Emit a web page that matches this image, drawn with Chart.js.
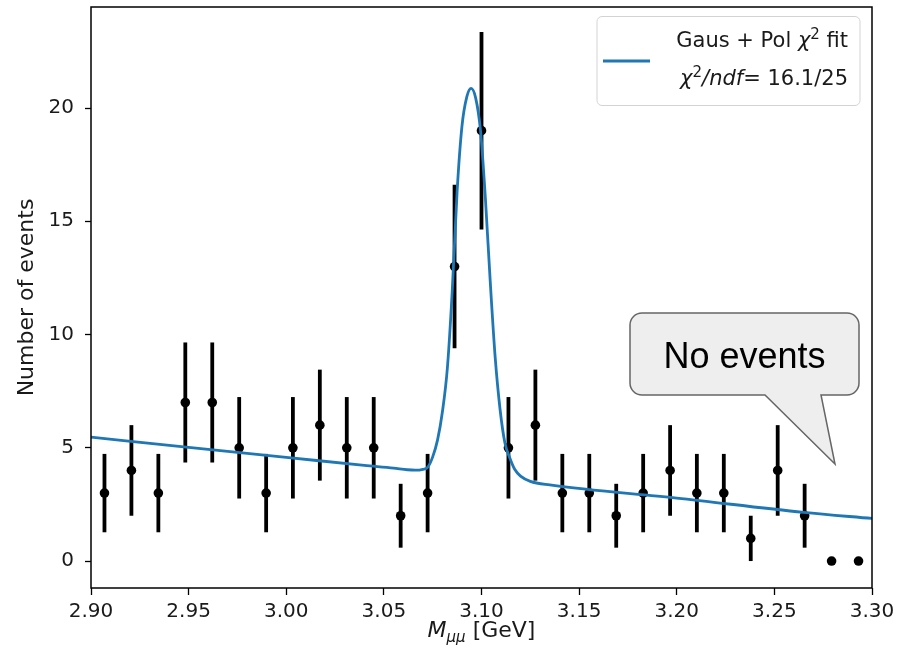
<!DOCTYPE html>
<html>
<head>
<meta charset="utf-8">
<script src="https://cdn.jsdelivr.net/npm/chart.js@4.4.1/dist/chart.umd.min.js"></script>
<style>
  html, body { margin: 0; padding: 0; background: #fff; }
  #wrap { width: 898px; height: 658px; position: relative; }
</style>
</head>
<body>
<div id="wrap"><canvas id="fitChart"></canvas></div>
<script>
// Histogram bin centres (GeV), counts and Poisson errors
const binCenters = [2.9069, 2.9207, 2.9345, 2.9483, 2.9621, 2.9759, 2.9897, 3.0034, 3.0172, 3.0310,
                    3.0448, 3.0586, 3.0724, 3.0862, 3.1000, 3.1138, 3.1276, 3.1414, 3.1552, 3.1690,
                    3.1828, 3.1966, 3.2103, 3.2241, 3.2379, 3.2517, 3.2655, 3.2793, 3.2931];
const counts = [3, 4, 3, 7, 7, 5, 3, 5, 6, 5,
                5, 2, 3, 13, 19, 5, 6, 3, 3, 2,
                3, 4, 3, 3, 1, 4, 2, 0, 0];
const errors = [1.73, 2, 1.73, 2.65, 2.65, 2.24, 1.73, 2.24, 2.45, 2.24,
                2.24, 1.41, 1.73, 3.61, 4.36, 2.24, 2.45, 1.73, 1.73, 1.41,
                1.73, 2, 1.73, 1.73, 1, 2, 1.41, 0, 0];

// Fit curve (Gaus + Pol)
const fitX = [2.900, 2.950, 3.000, 3.040, 3.055, 3.062, 3.066, 3.070, 3.0725, 3.0750,
              3.0775, 3.0800, 3.0825, 3.0850, 3.0875, 3.0900, 3.0925, 3.0947, 3.0970, 3.0995,
              3.1020, 3.1045, 3.1070, 3.1095, 3.1120, 3.1145, 3.1170, 3.1200, 3.1250, 3.1350,
              3.2000, 3.2650, 3.3000];
const fitY = [5.47, 5.02, 4.58, 4.22, 4.10, 4.03, 4.01, 4.05, 4.15, 4.60,
              5.35, 6.60, 8.50, 11.9, 16.3, 19.2, 20.5, 20.87, 20.45, 19.0,
              16.0, 12.3, 9.0, 6.7, 5.21, 4.55, 4.05, 3.75, 3.52, 3.36,
              2.78, 2.15, 1.88];

const xTicks = [2.90, 2.95, 3.00, 3.05, 3.10, 3.15, 3.20, 3.25, 3.30];
const yTicks = [0, 5, 10, 15, 20];

const fitColor = '#1f77b4';
const textColor = '#1a1a1a';
const FONT = "'DejaVu Sans'";

// draws a list of text runs, right aligned at xr
function drawRuns(ctx, runs, xr, baseline) {
    let total = 0;
    runs.forEach(r => { ctx.font = r.font; total += ctx.measureText(r.t).width; });
    let x = xr - total;
    ctx.textAlign = 'left';
    ctx.textBaseline = 'alphabetic';
    runs.forEach(r => {
        ctx.font = r.font;
        ctx.fillText(r.t, x, baseline + (r.dy || 0));
        x += ctx.measureText(r.t).width;
    });
}

const errorBars = {
    id: 'errorBars',
    beforeDatasetsDraw(chart) {
        const { ctx, scales: { x, y } } = chart;
        ctx.save();
        ctx.strokeStyle = '#000';
        ctx.lineWidth = 3.8;
        binCenters.forEach((c, i) => {
            if (!errors[i]) return;
            const px = x.getPixelForValue(c);
            ctx.beginPath();
            ctx.moveTo(px, y.getPixelForValue(counts[i] - errors[i]));
            ctx.lineTo(px, y.getPixelForValue(counts[i] + errors[i]));
            ctx.stroke();
        });
        ctx.restore();
    }
};

const decorations = {
    id: 'decorations',
    afterDraw(chart) {
        const { ctx, chartArea: a } = chart;
        ctx.save();
        // frame
        ctx.strokeStyle = '#000';
        ctx.lineWidth = 1.5;
        ctx.strokeRect(a.left, a.top, a.right - a.left, a.bottom - a.top);

        ctx.fillStyle = textColor;
        // y title
        ctx.save();
        ctx.translate(33, 297.5);
        ctx.rotate(-Math.PI / 2);
        ctx.font = `22px ${FONT}`;
        ctx.textAlign = 'center';
        ctx.textBaseline = 'alphabetic';
        ctx.fillText('Number of events', 0, 0);
        ctx.restore();

        // x title  M_{μμ} [GeV]
        const xt = [
            { t: 'M', font: `italic 22px ${FONT}` },
            { t: 'μμ', font: `italic 15px ${FONT}`, dy: 5 },
            { t: ' [GeV]', font: `22px ${FONT}` }
        ];
        let w = 0;
        xt.forEach(r => { ctx.font = r.font; w += ctx.measureText(r.t).width; });
        drawRuns(ctx, xt, (a.left + a.right) / 2 + w / 2, 637);

        // legend
        ctx.beginPath();
        ctx.roundRect(597, 16.5, 263, 89, 5);
        ctx.fillStyle = 'rgba(255,255,255,0.85)';
        ctx.fill();
        ctx.strokeStyle = '#d3d3d3';
        ctx.lineWidth = 1;
        ctx.stroke();
        ctx.strokeStyle = fitColor;
        ctx.lineWidth = 3;
        ctx.beginPath();
        ctx.moveTo(603, 61);
        ctx.lineTo(650, 61);
        ctx.stroke();
        ctx.fillStyle = textColor;
        drawRuns(ctx, [
            { t: 'Gaus + Pol ', font: `21px ${FONT}` },
            { t: 'χ', font: `italic 21px ${FONT}` },
            { t: '2', font: `15px ${FONT}`, dy: -8 },
            { t: ' fit', font: `21px ${FONT}` }
        ], 848, 47);
        drawRuns(ctx, [
            { t: 'χ', font: `italic 21px ${FONT}` },
            { t: '2', font: `15px ${FONT}`, dy: -8 },
            { t: '/ndf', font: `italic 21px ${FONT}` },
            { t: '= 16.1/25', font: `21px ${FONT}` }
        ], 848, 85);

        // callout
        const L = 630, R = 859, T = 313, B = 395, r = 12;
        ctx.beginPath();
        ctx.moveTo(L + r, T);
        ctx.lineTo(R - r, T);
        ctx.arcTo(R, T, R, T + r, r);
        ctx.lineTo(R, B - r);
        ctx.arcTo(R, B, R - r, B, r);
        ctx.lineTo(821, B);
        ctx.lineTo(835, 464);
        ctx.lineTo(765, B);
        ctx.lineTo(L + r, B);
        ctx.arcTo(L, B, L, B - r, r);
        ctx.lineTo(L, T + r);
        ctx.arcTo(L, T, L + r, T, r);
        ctx.closePath();
        ctx.fillStyle = '#eeeeee';
        ctx.fill();
        ctx.strokeStyle = '#666';
        ctx.lineWidth = 1.5;
        ctx.stroke();
        ctx.fillStyle = '#000';
        ctx.font = "36px 'Liberation Sans'";
        ctx.textAlign = 'center';
        ctx.textBaseline = 'alphabetic';
        ctx.fillText('No events', 744.5, 368);
        ctx.restore();
    }
};

const ctx = document.getElementById('fitChart').getContext('2d');
new Chart(ctx, {
    type: 'scatter',
    data: {
        datasets: [{
            label: 'Gaus + Pol fit',
            type: 'line',
            data: fitX.map((v, i) => ({ x: v, y: fitY[i] })),
            borderColor: fitColor,
            borderWidth: 2.8,
            pointRadius: 0,
            fill: false,
            cubicInterpolationMode: 'monotone'
        }, {
            label: 'Data',
            data: binCenters.map((v, i) => ({ x: v, y: counts[i] })),
            backgroundColor: '#000',
            borderWidth: 0,
            pointRadius: 4.8
        }]
    },
    options: {
        responsive: true,
        maintainAspectRatio: false,
        animation: false,
        layout: { padding: { top: 7, right: 26, left: 0, bottom: 0 } },
        plugins: { legend: { display: false }, tooltip: { enabled: false } },
        scales: {
            x: {
                type: 'linear',
                min: 2.90, max: 3.30,
                afterBuildTicks: s => { s.ticks = xTicks.map(v => ({ value: v })); },
                afterFit: s => { s.height = 70; s.paddingLeft = 0; s.paddingRight = 0; },
                ticks: {
                    color: textColor, padding: 5, maxRotation: 0,
                    font: { family: 'DejaVu Sans', size: 20 },
                    callback: v => v.toFixed(2)
                },
                grid: { drawOnChartArea: false, drawTicks: true, tickLength: 7, tickWidth: 1.3, tickColor: '#000' },
                border: { display: false }
            },
            y: {
                min: -1.19, max: 24.46,
                afterBuildTicks: s => { s.ticks = yTicks.map(v => ({ value: v })); },
                afterFit: s => { s.width = 91; s.paddingTop = 0; s.paddingBottom = 0; },
                ticks: {
                    color: textColor, padding: 11,
                    font: { family: 'DejaVu Sans', size: 20 }
                },
                grid: { drawOnChartArea: false, drawTicks: true, tickLength: 6, tickWidth: 1.3, tickColor: '#000' },
                border: { display: false }
            }
        }
    },
    plugins: [errorBars, decorations]
});
</script>
</body>
</html>
